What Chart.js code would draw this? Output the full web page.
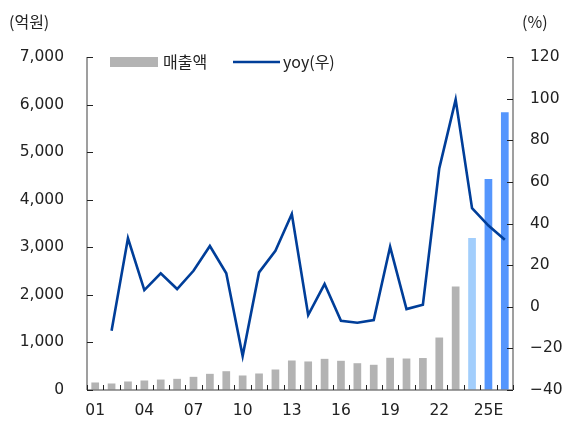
<!DOCTYPE html>
<html>
<head>
<meta charset="utf-8">
<script src="https://cdn.jsdelivr.net/npm/chart.js@4"></script>
<style>
  html, body { margin: 0; padding: 0; background: #fff; }
  #wrap { width: 571px; height: 425px; }
</style>
</head>
<body>
<div id="wrap"><canvas id="myChart" width="571" height="425"></canvas></div>
<script>
// data
const years = ['01','02','03','04','05','06','07','08','09','10','11','12','13',
  '14','15','16','17','18','19','20','21','22','23','24','25E','26E'];
const sales = [158, 137, 179, 200, 220, 235, 277, 340, 395, 305, 347, 431, 620,
  600, 655, 614, 563, 530, 677, 662, 672, 1103, 2175, 3195, 4435, 5840];
const yoy = [null, -11.5, 32.9, 8, 16.1, 8.5, 17.3, 29.2, 16.1, -23.7, 16.5, 26.9, 44.6,
  -4, 10.9, -6.7, -7.7, -6.4, 28.8, -1.1, 1, 66.5, 99.5, 47.4, 39, 32.2];
const leftTicks = [0, 1000, 2000, 3000, 4000, 5000, 6000, 7000];
const rightTicks = [-40, -20, 0, 20, 40, 60, 80, 100, 120];

const barColors = years.map((y, i) => {
  if (y.endsWith('E')) return '#5596fd';
  if (y === '24') return '#a2cefc';
  return '#b3b3b3';
});

const numFont = "'DejaVu Sans', 'Noto Sans CJK KR', sans-serif";
const korFont = "'Noto Sans CJK KR', 'DejaVu Sans', sans-serif";

// inward ticks, legend and unit labels
const decor = {
  id: 'decor',
  afterDraw(chart) {
    const ctx = chart.ctx;
    const area = chart.chartArea;
    const x = chart.scales.x, yL = chart.scales.y, yR = chart.scales.y1;
    ctx.save();
    // axis lines
    ctx.strokeStyle = '#808080';
    ctx.lineWidth = 1.5;
    ctx.beginPath();
    ctx.moveTo(area.left, area.top); ctx.lineTo(area.left, area.bottom);
    ctx.moveTo(area.right, area.top); ctx.lineTo(area.right, area.bottom);
    ctx.moveTo(area.left, area.bottom); ctx.lineTo(area.right, area.bottom);
    ctx.stroke();
    // tick marks pointing inside
    ctx.strokeStyle = '#222';
    ctx.lineWidth = 1;
    ctx.beginPath();
    leftTicks.forEach(v => {
      const py = Math.round(yL.getPixelForValue(v)) + 0.5;
      ctx.moveTo(area.left, py); ctx.lineTo(area.left + 6, py);
    });
    rightTicks.forEach(v => {
      const py = Math.round(yR.getPixelForValue(v)) + 0.5;
      ctx.moveTo(area.right, py); ctx.lineTo(area.right - 6, py);
    });
    for (let i = 0; i <= years.length; i++) {
      const px = Math.round(x.getPixelForValue(i) - (x.getPixelForValue(1) - x.getPixelForValue(0)) / 2) + 0.5;
      ctx.moveTo(px, area.bottom); ctx.lineTo(px, area.bottom - 5);
    }
    ctx.stroke();
    // unit labels
    ctx.fillStyle = '#222';
    ctx.font = '16px ' + korFont;
    ctx.textBaseline = 'middle';
    ctx.textAlign = 'left';
    ctx.fillText('(억원)', 9, 22);
    ctx.fillText('(%)', 522, 22);
    // legend
    const ly = 62;
    ctx.fillStyle = '#b3b3b3';
    ctx.fillRect(110, ly - 5, 48, 10);
    ctx.fillStyle = '#222';
    ctx.fillText('매출액', 163, ly);
    ctx.strokeStyle = '#003e99';
    ctx.lineWidth = 2.5;
    ctx.beginPath();
    ctx.moveTo(233, ly); ctx.lineTo(280, ly);
    ctx.stroke();
    ctx.fillText('yoy(우)', 283, ly);
    ctx.restore();
  }
};

const ctx = document.getElementById('myChart');
const myChart = new Chart(ctx, {
  data: {
    labels: years,
    datasets: [{
      type: 'line',
      label: 'yoy(우)',
      data: yoy,
      yAxisID: 'y1',
      borderColor: '#003e99',
      borderWidth: 2.6,
      pointRadius: 0,
      tension: 0,
      order: 0
    }, {
      type: 'bar',
      label: '매출액',
      data: sales,
      yAxisID: 'y',
      backgroundColor: barColors,
      barPercentage: 0.47,
      categoryPercentage: 1,
      order: 1
    }]
  },
  plugins: [decor],
  options: {
    responsive: false,
    animation: false,
    layout: { padding: { top: 57, left: 0, right: 0, bottom: 0 } },
    plugins: { legend: { display: false }, tooltip: { enabled: false } },
    scales: {
      x: {
        offset: true,
        grid: { display: false },
        border: { display: false },
        ticks: {
          autoSkip: false,
          maxRotation: 0,
          padding: 4,
          color: '#222',
          font: { family: numFont, size: 15.5 },
          callback: (v, i) => (i % 3 === 0 ? years[i] : '')
        },
        afterFit: s => { s.height = 35; }
      },
      y: {
        position: 'left',
        min: 0, max: 7000,
        grid: { display: false },
        border: { display: false },
        afterBuildTicks: s => { s.ticks = leftTicks.map(v => ({ value: v })); },
        ticks: {
          padding: 15,
          color: '#222',
          font: { family: numFont, size: 15.5 },
          callback: v => v.toLocaleString('en-US')
        },
        afterFit: s => { s.width = 87; }
      },
      y1: {
        position: 'right',
        min: -40, max: 120,
        grid: { display: false },
        border: { display: false },
        afterBuildTicks: s => { s.ticks = rightTicks.map(v => ({ value: v })); },
        ticks: {
          padding: 9,
          color: '#222',
          font: { family: numFont, size: 15.5 },
          callback: v => String(v).replace('-', '\u2212')
        },
        afterFit: s => { s.width = 58; }
      }
    }
  }
});
</script>
</body>
</html>
